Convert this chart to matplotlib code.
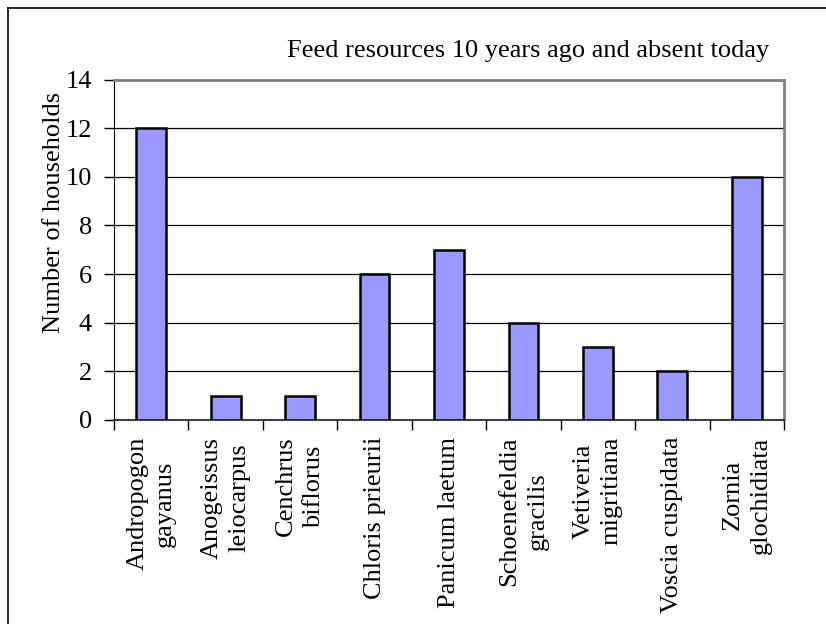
import numpy as np
import matplotlib.pyplot as plt
from matplotlib.lines import Line2D

# Данные
species = ['Andropogon\ngayanus', 'Anogeissus\nleiocarpus', 'Cenchrus\nbiflorus',
           'Chloris prieurii', 'Panicum laetum', 'Schoenefeldia\ngracilis',
           'Vetiveria\nmigritiana', 'Voscia cuspidata', 'Zornia\nglochidiata']
households = [12, 1, 1, 6, 7, 4, 3, 2, 10]
yticks = [0, 2, 4, 6, 8, 10, 12, 14]

plt.rcParams['font.family'] = ['Liberation Serif', 'DejaVu Serif']

W, H = 826, 624
fig = plt.figure(figsize=(W / 100, H / 100), dpi=100)
ax = fig.add_axes([114 / W, 1 - 420 / H, (784 - 114) / W, (420 - 79.5) / H])

x = np.arange(len(species))
ax.bar(x, households, width=0.4, color='#9999FF', edgecolor='black', linewidth=1.8, zorder=3)

ax.set_xlim(-0.5, len(species) - 0.5)
ax.set_ylim(0, 14)
ax.set_yticks(yticks)
ax.tick_params(axis='y', labelsize=19, length=7, width=1, pad=9, direction='out')
ax.yaxis.grid(True, color='black', linewidth=0.9, zorder=0)

# Подписи категорий и засечки между ними
ax.set_xticks(x)
ax.set_xticklabels(species, rotation=90, fontsize=19, ha='center', va='top',
                   multialignment='center', linespacing=1.35)
ax.tick_params(axis='x', which='major', length=0, pad=12)
ax.set_xticks(np.arange(len(species) + 1) - 0.5, minor=True)
ax.tick_params(axis='x', which='minor', length=7, width=1, direction='out')

for side in ['top', 'right']:
    ax.spines[side].set_color('#808080')
    ax.spines[side].set_linewidth(2)
ax.spines['left'].set_color('black')
ax.spines['bottom'].set_color('#404040')
ax.spines['bottom'].set_linewidth(1.5)

fig.text(54 / W, 1 - 212 / H, 'Number of households', rotation=90, fontsize=19,
         ha='center', va='center')
fig.text(769 / W, 1 - 57 / H, 'Feed resources 10 years ago and absent today',
         fontsize=19, ha='right', va='baseline')

# Рамка вокруг диаграммы (обрезана справа и снизу)
fig.add_artist(Line2D([8 / W, 8 / W], [0, 1 - 8 / H], transform=fig.transFigure,
                      color='black', linewidth=1.2))
fig.add_artist(Line2D([8 / W, 1], [1 - 8 / H, 1 - 8 / H], transform=fig.transFigure,
                      color='black', linewidth=1.2))

fig.savefig('out.png', dpi=100)
